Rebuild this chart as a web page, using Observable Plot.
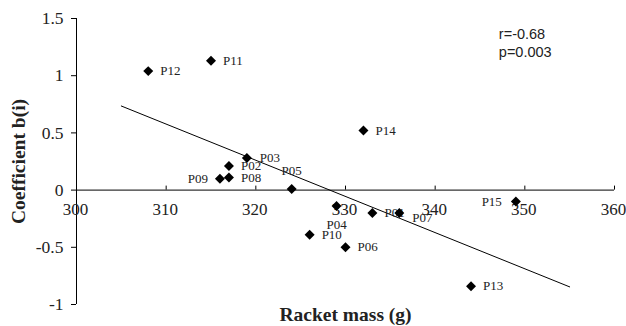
<!DOCTYPE html>
<html>
<head>
<meta charset="utf-8">
<script src="https://cdn.jsdelivr.net/npm/d3@7"></script>
<script src="https://cdn.jsdelivr.net/npm/@observablehq/plot@0.6"></script>
<style>
  html, body { margin: 0; padding: 0; background: #fff; }
</style>
</head>
<body>
<div id="chart"></div>
<script>
// Data
const players = ["P01","P02","P03","P04","P05","P06","P07","P08","P09","P10","P11","P12","P13","P14","P15"];
const racketMass = [333, 317, 319, 329, 324, 330, 336, 317, 316, 326, 315, 308, 344, 332, 349];
const coefficient = [-0.20, 0.21, 0.28, -0.14, 0.01, -0.50, -0.20, 0.11, 0.10, -0.39, 1.13, 1.04, -0.84, 0.52, -0.10];

// Fitted trend line end points
const fitMass = [305, 355];
const fitCoef = [0.735, -0.846];

const xTicks = [300, 310, 320, 330, 340, 350, 360];
const yTicks = [-1, -0.5, 0, 0.5, 1, 1.5];
const statsText = ["r=-0.68", "p=0.003"];

// Label placement (style only)
const labelPlace = {
  P01: {dx: 12, dy: 0, anchor: "start"},
  P02: {dx: 12, dy: 0, anchor: "start"},
  P03: {dx: 13, dy: 0, anchor: "start"},
  P04: {dx: 0, dy: 19, anchor: "middle"},
  P05: {dx: 0, dy: -18, anchor: "middle"},
  P06: {dx: 12, dy: 0, anchor: "start"},
  P07: {dx: 13, dy: 5, anchor: "start"},
  P08: {dx: 12, dy: 0, anchor: "start"},
  P09: {dx: -12, dy: 0, anchor: "end"},
  P10: {dx: 12, dy: 0, anchor: "start"},
  P11: {dx: 12, dy: 0, anchor: "start"},
  P12: {dx: 12, dy: 0, anchor: "start"},
  P13: {dx: 12, dy: 0, anchor: "start"},
  P14: {dx: 12, dy: 0, anchor: "start"},
  P15: {dx: -14, dy: 0, anchor: "end"}
};

const points = players.map((p, i) => ({name: p, mass: racketMass[i], coef: coefficient[i]}));
const fit = fitMass.map((m, i) => ({mass: m, coef: fitCoef[i]}));

const labelMarks = points.map(d => Plot.text([d], {
  x: "mass", y: "coef", text: "name",
  textAnchor: labelPlace[d.name].anchor,
  dx: labelPlace[d.name].dx, dy: labelPlace[d.name].dy,
  fontSize: 13, fill: "#222", fontFamily: "Liberation Serif"
}));

const chart = Plot.plot({
  width: 626,
  height: 326,
  marginLeft: 76,
  marginRight: 12,
  marginTop: 18,
  marginBottom: 22,
  style: {fontFamily: "Liberation Serif", fontSize: "17.5px", color: "#111", background: "#fff", overflow: "visible"},
  x: {domain: [300, 360], axis: null},
  y: {domain: [-1, 1.5], axis: null},
  marks: [
    // y axis
    Plot.ruleX([300], {y1: -1, y2: 1.5, stroke: "#000", strokeWidth: 1}),
    Plot.axisY(yTicks, {label: null, tickSize: 5, tickPadding: 8, tickFormat: d => String(d), fill: "#222", stroke: "#000"}),
    // x axis drawn at y = 0
    Plot.ruleY([0], {x1: 300, x2: 360, stroke: "#000", strokeWidth: 1}),
    Plot.ruleX(xTicks.slice(1), {x: d => d, y1: 0, y2: 0.035, stroke: "#000", strokeWidth: 1}),
    Plot.text(xTicks, {x: d => d, y: 0, dy: 19, dx: -1, text: d => String(d), fontSize: 17, fill: "#222", textAnchor: "middle"}),
    // axis titles
    Plot.text(["Racket mass (g)"], {x: 330, y: -1, dy: 16.3, lineAnchor: "bottom", text: d => d, fontSize: 19.5, fontWeight: "bold", fill: "#222", textAnchor: "middle"}),
    Plot.text(["Coefficient b(i)"], {x: 300, y: 0.25, dx: -58, rotate: -90, text: d => d, fontSize: 19.5, fontWeight: "bold", fill: "#222", textAnchor: "middle"}),
    // trend line
    Plot.line(fit, {x: "mass", y: "coef", stroke: "#000", strokeWidth: 1}),
    // point labels
    ...labelMarks,
    // markers
    Plot.dot(points, {x: "mass", y: "coef", symbol: "diamond2", r: 4.5, fill: "#000", stroke: "none"}),
    // statistics
    Plot.text([statsText.join("\n")], {x: 347.1, y: 1.166, text: d => d, lineAnchor: "bottom", lineHeight: 1.22, fontSize: 14.5, fill: "#222", textAnchor: "start", fontFamily: "Liberation Sans"})
  ]
});
document.getElementById("chart").appendChild(chart);
</script>
</body>
</html>
